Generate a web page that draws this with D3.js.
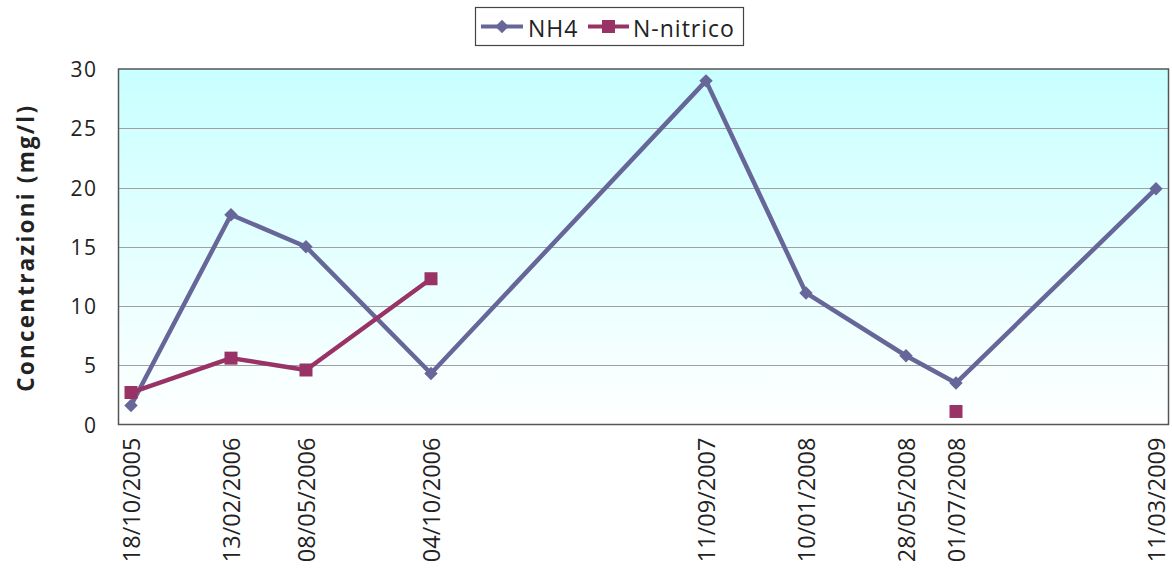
<!DOCTYPE html>
<html>
<head>
<meta charset="utf-8">
<script src="https://cdn.jsdelivr.net/npm/d3@7"></script>
<style>
  html, body { margin: 0; padding: 0; background: #ffffff; }
  svg { display: block; }
</style>
</head>
<body>
<svg id="chart" width="1172" height="574"></svg>
<script>
// ---- data ----
const dates = ["18/10/2005","13/02/2006","08/05/2006","04/10/2006","11/09/2007","10/01/2008","28/05/2008","01/07/2008","11/03/2009"];
const nh4 = [1.6, 17.7, 15.0, 4.3, 29.0, 11.1, 5.8, 3.5, 19.9];
const nitrico = [2.7, 5.6, 4.6, 12.3, null, null, null, 1.1, null];
const yTicks = [0, 5, 10, 15, 20, 25, 30];
const seriesNames = ["NH4", "N-nitrico"];
const axisStart = "01/10/2005";
const axisEnd = "01/03/2009";
const yTitle = "Concentrazioni (mg/l)";

// ---- layout ----
const W = 1172, H = 574;
const plot = { left: 118.5, right: 1168.5, top: 69, bottom: 424.5 };
const colNH4 = "#666699", colNit = "#993366";
const font = "'Open Sans', 'Liberation Sans', sans-serif";

// month index (Excel-style date axis with monthly base unit)
function monthIndex(s) {
  const p = s.split("/");
  return (+p[2]) * 12 + (+p[1] - 1);
}
const m0 = monthIndex(axisStart), m1 = monthIndex(axisEnd);

const x = d3.scaleLinear().domain([m0 - 0.5, m1 + 0.5]).range([plot.left, plot.right]);
const y = d3.scaleLinear().domain([0, 30]).range([plot.bottom, plot.top]);

const svg = d3.select("#chart");
const defs = svg.append("defs");
const grad = defs.append("linearGradient").attr("id", "bg").attr("x1", 0).attr("y1", 0).attr("x2", 0).attr("y2", 1);
grad.append("stop").attr("offset", "0%").attr("stop-color", "#c8ffff");
grad.append("stop").attr("offset", "100%").attr("stop-color", "#ffffff");

// plot background
svg.append("rect")
  .attr("x", plot.left).attr("y", plot.top)
  .attr("width", plot.right - plot.left).attr("height", plot.bottom - plot.top)
  .attr("fill", "url(#bg)");

// gridlines
svg.append("g").selectAll("line")
  .data(yTicks.filter(t => t > 0 && t < 30))
  .join("line")
  .attr("x1", plot.left).attr("x2", plot.right)
  .attr("y1", d => Math.round(y(d)) + 0.5).attr("y2", d => Math.round(y(d)) + 0.5)
  .attr("stroke", "#a0a0a0").attr("stroke-width", 1.2);

// border
svg.append("rect")
  .attr("x", plot.left).attr("y", plot.top)
  .attr("width", plot.right - plot.left).attr("height", plot.bottom - plot.top)
  .attr("fill", "none").attr("stroke", "#555555").attr("stroke-width", 1.5);

// y axis
const yAxis = d3.axisLeft(y).tickValues(yTicks).tickSize(0).tickPadding(0).tickFormat(d3.format("d"));
const gy = svg.append("g").attr("transform", `translate(${plot.left - 21},0)`).call(yAxis);
gy.select(".domain").remove();
gy.selectAll("text")
  .attr("font-family", font).attr("font-size", 21).attr("letter-spacing", 1.5)
  .attr("fill", "#222").attr("dy", "0.36em");

// x axis labels
const xAxis = d3.axisBottom(x)
  .tickValues(dates.map(monthIndex))
  .tickFormat((d, i) => dates[i])
  .tickSize(0);
const gx = svg.append("g").attr("transform", `translate(0,${plot.bottom})`).call(xAxis);
gx.select(".domain").remove();
gx.selectAll("text")
  .attr("font-family", font).attr("font-size", 23.5).attr("fill", "#222")
  .attr("text-anchor", "end")
  .attr("transform", "rotate(-90)")
  .attr("x", -13).attr("y", 0).attr("dy", "0.36em");

// y title
svg.append("text")
  .attr("transform", `translate(34,${(plot.top + plot.bottom) / 2 + 1}) rotate(-90)`)
  .attr("text-anchor", "middle")
  .attr("font-family", font).attr("font-weight", "bold").attr("font-size", 22.5)
  .attr("letter-spacing", 2.2).attr("fill", "#222")
  .text(yTitle);

// lines
const pts = arr => arr.map((v, i) => ({ m: monthIndex(dates[i]), v }));
const line = d3.line().defined(d => d.v != null).x(d => x(d.m)).y(d => y(d.v));

svg.append("path").datum(pts(nh4)).attr("d", line)
  .attr("fill", "none").attr("stroke", colNH4).attr("stroke-width", 4.5).attr("stroke-linejoin", "round");
svg.append("path").datum(pts(nitrico)).attr("d", line)
  .attr("fill", "none").attr("stroke", colNit).attr("stroke-width", 4.5).attr("stroke-linejoin", "round");

const diamond = d3.symbol().type(d3.symbolSquare).size(90);
svg.append("g").selectAll("path")
  .data(pts(nh4).filter(d => d.v != null))
  .join("path")
  .attr("d", diamond)
  .attr("transform", d => `translate(${x(d.m)},${y(d.v)}) rotate(45)`)
  .attr("fill", colNH4);

const square = d3.symbol().type(d3.symbolSquare).size(169);
svg.append("g").selectAll("path")
  .data(pts(nitrico).filter(d => d.v != null))
  .join("path")
  .attr("d", square)
  .attr("transform", d => `translate(${x(d.m)},${y(d.v)})`)
  .attr("fill", colNit);

// legend
const lg = svg.append("g");
lg.append("rect").attr("x", 475.5).attr("y", 7.5).attr("width", 268).attr("height", 38)
  .attr("fill", "#fff").attr("stroke", "#444").attr("stroke-width", 1.2);
const legendItems = [
  { name: seriesNames[0], color: colNH4, x1: 481, x2: 523, tx: 528, sym: "d" },
  { name: seriesNames[1], color: colNit, x1: 588, x2: 629, tx: 633, sym: "s" }
];
legendItems.forEach(it => {
  lg.append("line").attr("x1", it.x1).attr("x2", it.x2).attr("y1", 26.5).attr("y2", 26.5)
    .attr("stroke", it.color).attr("stroke-width", 4);
  const cx = (it.x1 + it.x2) / 2;
  lg.append("path")
    .attr("d", it.sym === "d" ? diamond() : square())
    .attr("transform", it.sym === "d" ? `translate(${cx},26.5) rotate(45)` : `translate(${cx},26.5)`)
    .attr("fill", it.color);
  lg.append("text").attr("x", it.tx).attr("y", 37)
    .attr("font-family", font).attr("font-size", 23).attr("letter-spacing", 1)
    .attr("fill", "#222").text(it.name);
});
</script>
</body>
</html>
